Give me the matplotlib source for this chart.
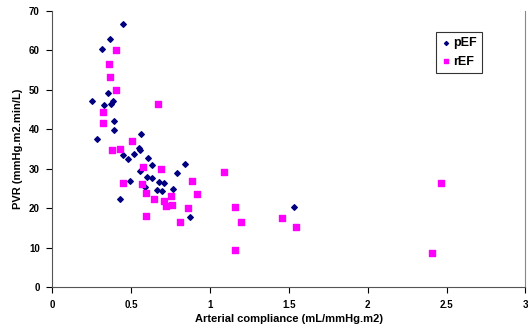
import matplotlib
matplotlib.use('Agg')
import matplotlib.pyplot as plt

# pEF group
pef_x = [0.446, 0.366, 0.313, 0.351, 0.252, 0.326, 0.370, 0.387, 0.391, 0.393,
         0.283, 0.562, 0.548, 0.554, 0.446, 0.482, 0.520, 0.609, 0.630, 0.554,
         0.600, 0.634, 0.590, 0.491, 0.679, 0.710, 0.664, 0.696, 0.767, 0.789,
         0.843, 0.429, 0.873, 1.531]
pef_y = [66.7, 62.9, 60.4, 49.2, 47.1, 46.3, 46.5, 47.3, 42.2, 39.9,
         37.5, 38.9, 35.4, 34.7, 33.6, 32.5, 33.9, 32.8, 30.9, 29.5,
         28.0, 27.6, 25.5, 27.0, 26.7, 26.4, 24.7, 24.3, 24.8, 28.9,
         31.3, 22.3, 17.8, 20.4]

# rEF group
ref_x = [0.402, 0.357, 0.364, 0.402, 0.670, 0.324, 0.324, 0.380, 0.431, 0.503,
         0.575, 0.691, 0.450, 0.569, 0.594, 0.643, 0.708, 0.721, 0.759, 0.751,
         0.886, 0.919, 0.859, 0.808, 0.592, 1.091, 1.157, 1.197, 1.161, 1.459,
         1.545, 2.463, 2.410]
ref_y = [60.2, 56.6, 53.2, 50.0, 46.4, 44.3, 41.6, 34.7, 35.1, 37.1,
         30.6, 29.9, 26.5, 26.2, 23.8, 22.4, 21.8, 20.6, 20.8, 23.1,
         26.9, 23.7, 20.2, 16.5, 18.0, 29.2, 20.4, 16.6, 9.4, 17.6,
         15.2, 26.5, 8.6]

x_ticks = [0, 0.5, 1, 1.5, 2, 2.5, 3]
x_labels = ['0', '0.5', '1', '1.5', '2', '2.5', '3']
y_ticks = [0, 10, 20, 30, 40, 50, 60, 70]

plt.rcParams['font.family'] = ['Liberation Sans', 'DejaVu Sans']

fig = plt.figure(figsize=(5.28, 3.30), dpi=100)
ax = fig.add_axes([0.099, 0.129, 0.896, 0.838])

ax.scatter(pef_x, pef_y, marker='D', s=8, color='#000080', label='pEF', zorder=3)
ax.scatter(ref_x, ref_y, marker='s', s=13, color='#FF00FF', label='rEF', zorder=3)

ax.set_xlim(0, 3)
ax.set_ylim(0, 70)
ax.set_xticks(x_ticks)
ax.set_xticklabels(x_labels)
ax.set_yticks(y_ticks)
ax.tick_params(axis='both', direction='out', length=4, width=0.8, labelsize=7, pad=5)
for lab in ax.get_xticklabels() + ax.get_yticklabels():
    lab.set_fontweight('bold')

ax.spines['top'].set_visible(False)
ax.spines['right'].set_color('#888888')
ax.spines['left'].set_color('#555555')
ax.spines['bottom'].set_color('#555555')

ax.set_xlabel('Arterial compliance (mL/mmHg.m2)', fontsize=8, fontweight='bold', labelpad=3)
ax.set_ylabel('PVR (mmHg.m2.min/L)', fontsize=8, fontweight='bold', labelpad=4)

leg = ax.legend(loc='upper left', bbox_to_anchor=(0.797, 0.945), frameon=True,
                fancybox=False, edgecolor='black', handletextpad=0.2,
                handlelength=0.8, borderpad=0.4, labelspacing=0.5,
                markerscale=0.7, prop={'weight': 'bold', 'size': 9})
leg.get_frame().set_linewidth(0.8)

fig.savefig('out.png', dpi=100)
